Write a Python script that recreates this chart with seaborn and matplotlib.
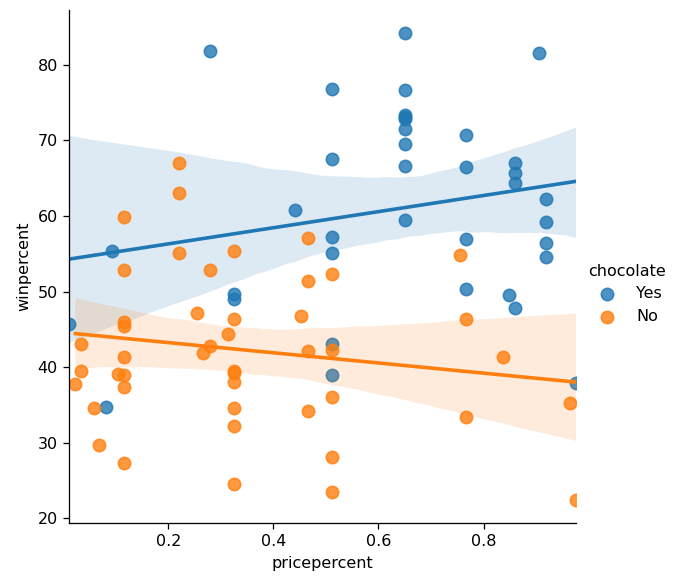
import matplotlib
matplotlib.use("Agg")
import matplotlib.pyplot as plt
import seaborn as sns
import pandas as pd

# candy data: price percentile, win percentage, chocolate flag
yes_price = [0.860, 0.511, 0.767, 0.767, 0.511, 0.093, 0.918, 0.918, 0.918, 0.511,
             0.511, 0.651, 0.651, 0.511, 0.651, 0.441, 0.860, 0.860, 0.918, 0.767,
             0.767, 0.651, 0.279, 0.651, 0.651, 0.651, 0.860, 0.081, 0.976, 0.651,
             0.651, 0.325, 0.511, 0.011, 0.325, 0.906, 0.848]
yes_win = [66.97, 67.60, 50.35, 56.91, 38.98, 55.38, 62.28, 56.49, 59.24, 57.22,
           76.77, 71.47, 66.57, 55.06, 73.10, 60.80, 64.35, 47.83, 54.53, 70.74,
           66.47, 69.48, 81.87, 84.18, 73.43, 72.89, 65.72, 34.72, 37.89, 76.67,
           59.53, 48.98, 43.07, 45.74, 49.65, 81.64, 49.52]

no_price = [0.511, 0.511, 0.325, 0.325, 0.511, 0.325, 0.511, 0.034, 0.034, 0.325,
            0.453, 0.465, 0.465, 0.465, 0.465, 0.511, 0.116, 0.104, 0.279, 0.325,
            0.325, 0.976, 0.325, 0.767, 0.023, 0.837, 0.116, 0.965, 0.069, 0.279,
            0.220, 0.220, 0.116, 0.116, 0.116, 0.220, 0.058, 0.767, 0.325, 0.116,
            0.755, 0.255, 0.116, 0.116, 0.313, 0.267]
no_win = [52.34, 23.42, 38.01, 34.52, 36.02, 24.52, 42.27, 39.46, 43.09, 39.19,
          46.78, 57.12, 34.16, 51.41, 42.18, 28.13, 41.39, 39.14, 52.91, 46.41,
          55.35, 22.45, 39.45, 46.30, 37.72, 41.27, 37.35, 35.29, 29.70, 42.85,
          63.09, 55.10, 45.99, 59.86, 52.83, 67.04, 34.58, 33.44, 32.23, 27.30,
          54.86, 47.17, 45.47, 39.01, 44.38, 41.90]

candy = pd.DataFrame({
    "pricepercent": yes_price + no_price,
    "winpercent": yes_win + no_win,
    "chocolate": ["Yes"] * len(yes_price) + ["No"] * len(no_price),
})

plt.rcParams["figure.dpi"] = 115
plt.rcParams["savefig.dpi"] = 115

g = sns.lmplot(data=candy, x="pricepercent", y="winpercent", hue="chocolate",
               hue_order=["Yes", "No"], height=5, aspect=1, seed=1,
               scatter_kws={"s": 60})
# old seaborn behaviour: x axis fits the data range exactly
g.set(xlim=(candy["pricepercent"].min(), candy["pricepercent"].max()))
g.figure.set_size_inches(680 / 115, 588 / 115)
g.figure.subplots_adjust(left=69 / 680, right=576 / 680, bottom=1 - 523 / 588, top=1 - 10 / 588)
g.figure.savefig("out.png", dpi=115)
